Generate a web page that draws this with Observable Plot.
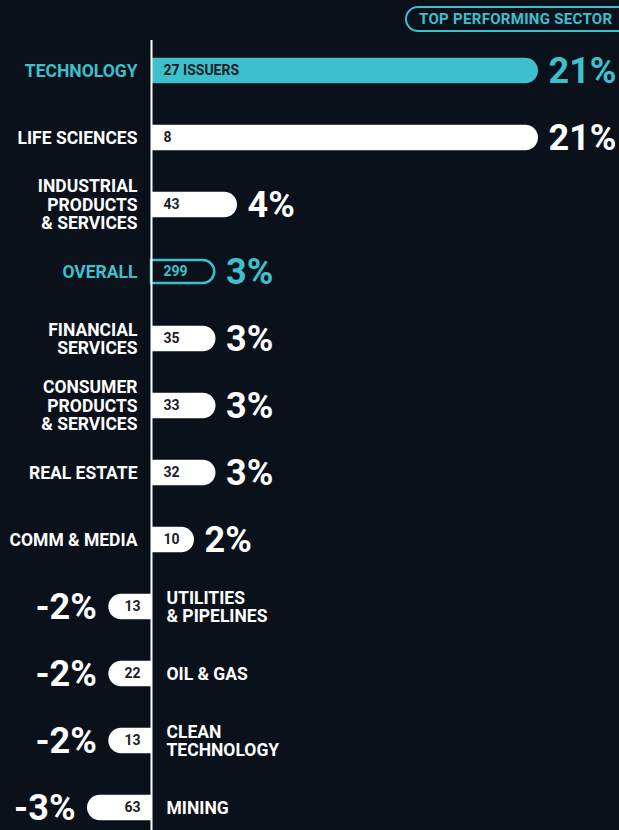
<!DOCTYPE html>
<html>
<head>
<meta charset="utf-8">
<script src="https://cdn.jsdelivr.net/npm/d3@7"></script>
<script src="https://cdn.jsdelivr.net/npm/@observablehq/plot@0.6"></script>
<style>
  html, body { margin: 0; padding: 0; background: #0a111b; overflow: hidden; }
  #wrap { position: relative; width: 619px; height: 830px; background: #0a111b; overflow: hidden;
    font-family: Roboto, "Liberation Sans", sans-serif; }
  #pill { position: absolute; left: 405px; top: 6px; width: 240px; height: 26px; box-sizing: border-box;
    border: 2px solid #3ec0cc; border-radius: 13px; color: #3ec0cc; font-weight: bold; font-size: 15px;
    letter-spacing: 0.3px; line-height: 22px; padding-left: 12px; white-space: nowrap; }
  svg { display: block; }
</style>
</head>
<body>
<div id="wrap">
  <div id="chart"></div>
  <div id="pill">TOP PERFORMING SECTOR</div>
</div>
<script>
const sectors = ["TECHNOLOGY", "LIFE SCIENCES", "INDUSTRIAL\nPRODUCTS\n& SERVICES", "OVERALL",
  "FINANCIAL\nSERVICES", "CONSUMER\nPRODUCTS\n& SERVICES", "REAL ESTATE", "COMM & MEDIA",
  "UTILITIES\n& PIPELINES", "OIL & GAS", "CLEAN\nTECHNOLOGY", "MINING"];
const returns = [21, 21, 4, 3, 3, 3, 3, 2, -2, -2, -2, -3];
const issuers = [27, 8, 43, 299, 35, 33, 32, 10, 13, 22, 13, 63];
const highlight = ["TECHNOLOGY"];
const overall = "OVERALL";

const TEAL = "#3ec0cc", BG = "#0a111b", WHITE = "#ffffff", DARK = "#1c2027";
const FONT = 'Roboto, "Liberation Sans", sans-serif';

const data = sectors.map((s, i) => ({
  sector: s, ret: returns[i], n: issuers[i],
  count: i === 0 ? issuers[i] + " ISSUERS" : String(issuers[i]),
  teal: highlight.includes(s) || s === overall,
  isOverall: s === overall
}));
const pos = data.filter(d => d.ret >= 0 && !d.isOverall);
const neg = data.filter(d => d.ret < 0);
const ovr = data.filter(d => d.isOverall);
const posAll = data.filter(d => d.ret >= 0);

const inset = 20.75;
const chart = Plot.plot({
  width: 619, height: 830,
  marginTop: 40, marginBottom: 0, marginLeft: 0, marginRight: 0,
  style: { background: "transparent", fontFamily: FONT },
  x: { type: "linear", domain: [-3, 0, 4, 21], range: [87, 151, 237, 538], axis: null },
  y: { type: "band", domain: sectors, range: [34.25, 844.25], padding: 0, axis: null },
  marks: [
    Plot.barX(pos, { x: "ret", y: "sector", fill: d => d.teal ? TEAL : WHITE,
      insetTop: inset, insetBottom: inset, rx2: 13 }),
    Plot.barX(neg, { x: "ret", y: "sector", fill: WHITE,
      insetTop: inset, insetBottom: inset, rx1: 13 }),
    Plot.barX(ovr, { x: "ret", y: "sector", fill: BG, stroke: TEAL, strokeWidth: 2.5,
      insetTop: inset + 1.25, insetBottom: inset + 1.25, insetRight: 1.25, rx2: 12 }),
    Plot.ruleX([0], { stroke: WHITE, strokeWidth: 2 }),
    // issuer counts
    Plot.text(posAll, { x: 0, y: "sector", text: "count", textAnchor: "start", dx: 12,
      fill: d => d.isOverall ? TEAL : DARK, fontWeight: "bold", fontSize: 14 }),
    Plot.text(neg, { x: 0, y: "sector", text: "count", textAnchor: "end", dx: -11,
      fill: DARK, fontWeight: "bold", fontSize: 14 }),
    // sector labels
    Plot.text(posAll, { x: 0, y: "sector", text: "sector", textAnchor: "end", dx: -14,
      lineHeight: 1.06, fill: d => d.teal ? TEAL : WHITE, fontWeight: "bold", fontSize: 17.5,
      letterSpacing: "1.2px" }),
    Plot.text(neg, { x: 0, y: "sector", text: "sector", textAnchor: "start", dx: 15,
      lineHeight: 1.06, fill: WHITE, fontWeight: "bold", fontSize: 17.5, letterSpacing: "1.2px" }),
    // return values
    Plot.text(posAll, { x: "ret", y: "sector", text: d => d.ret + "%", textAnchor: "start", dx: 10,
      fill: d => d.teal ? TEAL : WHITE, fontWeight: "bold", fontSize: 36 }),
    Plot.text(neg, { x: "ret", y: "sector", text: d => d.ret + "%", textAnchor: "end", dx: -12,
      fill: WHITE, fontWeight: "bold", fontSize: 36, letterSpacing: "1px" })
  ]
});
document.getElementById("chart").appendChild(chart);
</script>
</body>
</html>
